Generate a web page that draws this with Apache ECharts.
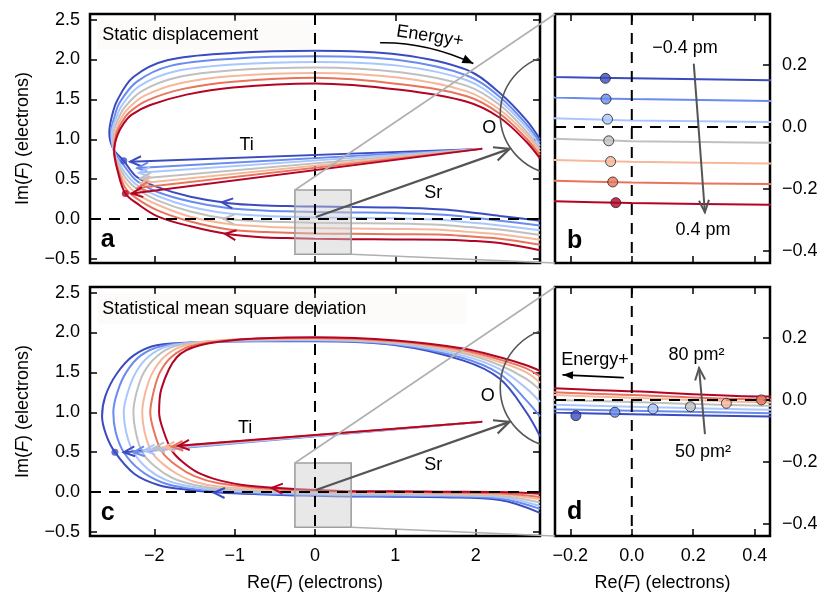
<!DOCTYPE html>
<html>
<head>
<meta charset="utf-8">
<script src="https://cdn.jsdelivr.net/npm/echarts@6/dist/echarts.min.js"></script>
<style>
html, body { margin: 0; padding: 0; background: #fff; }
#chart { width: 821px; height: 593px; }
</style>
</head>
<body>
<div id="chart"></div>
<script>
const FONT = '"Liberation Sans", Arial, Helvetica, sans-serif';

// coolwarm steps, one per curve (blue -> red)
const palette = ['#3b4cc0', '#6a8bef', '#aac7fd', '#c0c0c0', '#f6b89c', '#e7745b', '#b40426'];

// axis ranges and tick values
const mainRangeX = [-2.8, 2.8];
const mainRangeY = [-0.55, 2.57];
const insetRangeX = [-0.25, 0.45];
const insetRangeY = [-0.44, 0.365];
const mainTicksX = [-2, -1, 0, 1, 2];
const mainTicksY = [-0.5, 0, 0.5, 1, 1.5, 2, 2.5];
const insetTicksX = [-0.2, 0, 0.2, 0.4];
const insetTicksY = [-0.4, -0.2, 0, 0.2];

// F(E) trajectories, static displacement (-0.4 pm ... 0.4 pm)
const staticCurve0 = [[2.8,-0.02],[2.3,0.04],[1.9,0.09],[1.6,0.12],[1.0,0.145],[0.45,0.151],[0,0.157],[-0.25,0.161],[-0.6,0.17],[-1.07,0.20],[-1.55,0.28],[-1.96,0.40],[-2.22,0.53],[-2.38,0.73],[-2.51,0.88],[-2.56,1.08],[-2.53,1.28],[-2.46,1.49],[-2.26,1.78],[-1.84,1.99],[-1.02,2.08],[0,2.11],[1.06,2.06],[1.89,1.87],[2.3,1.58],[2.63,1.24],[2.8,1.0]];
const staticCurve1 = [[2.8,-0.08],[2.3,-0.02],[1.9,0.025],[1.6,0.055],[1.0,0.078],[0.45,0.084],[0,0.090],[-0.25,0.095],[-0.6,0.105],[-1.07,0.135],[-1.55,0.22],[-1.96,0.34],[-2.22,0.48],[-2.37,0.66],[-2.45,0.77],[-2.51,0.875],[-2.54,1.075],[-2.5,1.267],[-2.43,1.46],[-2.22,1.72],[-1.80,1.92],[-1.02,2.01],[0,2.04],[1.06,1.99],[1.89,1.80],[2.3,1.53],[2.63,1.19],[2.8,0.96]];
const staticCurve2 = [[2.8,-0.14],[2.3,-0.08],[1.9,-0.04],[1.6,-0.01],[1.0,0.01],[0.45,0.016],[0,0.021],[-0.25,0.028],[-0.6,0.04],[-1.07,0.07],[-1.55,0.155],[-1.96,0.29],[-2.22,0.43],[-2.37,0.59],[-2.45,0.73],[-2.51,0.87],[-2.53,1.07],[-2.48,1.253],[-2.40,1.43],[-2.19,1.663],[-1.76,1.847],[-1.02,1.937],[0,1.97],[1.06,1.92],[1.89,1.74],[2.3,1.48],[2.63,1.15],[2.8,0.92]];
const staticCurve3 = [[2.8,-0.20],[2.3,-0.13],[1.9,-0.10],[1.6,-0.075],[1.0,-0.056],[0.45,-0.051],[0,-0.046],[-0.25,-0.038],[-0.6,-0.03],[-1.07,0.0],[-1.55,0.095],[-1.96,0.235],[-2.22,0.38],[-2.36,0.52],[-2.45,0.69],[-2.5,0.87],[-2.51,1.065],[-2.455,1.24],[-2.37,1.40],[-2.155,1.605],[-1.72,1.775],[-1.02,1.865],[0,1.90],[1.06,1.84],[1.89,1.67],[2.3,1.43],[2.63,1.10],[2.8,0.88]];
const staticCurve4 = [[2.8,-0.26],[2.3,-0.19],[1.9,-0.16],[1.6,-0.135],[1.0,-0.123],[0.45,-0.118],[0,-0.113],[-0.25,-0.107],[-0.6,-0.095],[-1.07,-0.06],[-1.55,0.03],[-1.96,0.18],[-2.22,0.32],[-2.36,0.46],[-2.45,0.65],[-2.5,0.865],[-2.49,1.06],[-2.43,1.227],[-2.34,1.37],[-2.12,1.547],[-1.68,1.703],[-1.02,1.793],[0,1.83],[1.06,1.77],[1.89,1.60],[2.3,1.37],[2.63,1.06],[2.8,0.84]];
const staticCurve5 = [[2.8,-0.32],[2.3,-0.245],[1.9,-0.215],[1.6,-0.195],[1.0,-0.19],[0.45,-0.185],[0,-0.180],[-0.25,-0.174],[-0.6,-0.163],[-1.07,-0.13],[-1.55,-0.03],[-1.96,0.11],[-2.22,0.26],[-2.36,0.39],[-2.45,0.62],[-2.5,0.86],[-2.477,1.055],[-2.405,1.213],[-2.31,1.34],[-2.085,1.488],[-1.64,1.632],[-1.02,1.722],[0,1.77],[1.06,1.69],[1.89,1.54],[2.3,1.32],[2.63,1.01],[2.8,0.80]];
const staticCurve6 = [[2.8,-0.39],[2.3,-0.30],[1.9,-0.27],[1.6,-0.258],[1.0,-0.255],[0.45,-0.252],[0,-0.246],[-0.25,-0.240],[-0.6,-0.23],[-1.07,-0.19],[-1.55,-0.09],[-1.96,0.035],[-2.22,0.20],[-2.36,0.32],[-2.45,0.58],[-2.5,0.855],[-2.46,1.05],[-2.38,1.2],[-2.28,1.31],[-2.05,1.43],[-1.6,1.56],[-1.02,1.65],[0,1.70],[1.06,1.62],[1.89,1.47],[2.3,1.27],[2.63,0.97],[2.8,0.76]];
const staticCurves = [staticCurve0, staticCurve1, staticCurve2, staticCurve3, staticCurve4, staticCurve5, staticCurve6];

// F(E) trajectories, mean square deviation (50 pm^2 ... 80 pm^2)
const msdCurve0 = [[2.8,-0.26],[2.3,-0.10],[1.6,-0.065],[1.0,-0.058],[0.45,-0.054],[0,-0.046],[-0.25,-0.041],[-0.6,-0.03],[-1.2,-0.005],[-1.6,0.03],[-1.95,0.09],[-2.25,0.23],[-2.49,0.5],[-2.60,0.72],[-2.65,0.95],[-2.61,1.2],[-2.47,1.48],[-2.26,1.71],[-1.97,1.84],[-1.4,1.88],[-0.7,1.89],[0,1.89],[1.01,1.84],[1.84,1.65],[2.3,1.42],[2.63,1.0],[2.8,0.7]];
const msdCurve1 = [[2.8,-0.21],[2.3,-0.08],[1.6,-0.052],[1.0,-0.046],[0.45,-0.043],[0,-0.035],[-0.25,-0.030],[-0.6,-0.02],[-1.2,0.01],[-1.6,0.05],[-1.9,0.12],[-2.17,0.27],[-2.38,0.5],[-2.48,0.75],[-2.51,1.0],[-2.46,1.25],[-2.35,1.5],[-2.17,1.71],[-1.9,1.83],[-1.4,1.88],[-0.7,1.895],[0,1.898],[1.01,1.85],[1.84,1.68],[2.3,1.48],[2.63,1.15],[2.8,0.95]];
const msdCurve2 = [[2.8,-0.175],[2.3,-0.06],[1.6,-0.04],[1.0,-0.034],[0.45,-0.032],[0,-0.022],[-0.25,-0.016],[-0.6,-0.005],[-1.2,0.025],[-1.55,0.07],[-1.85,0.15],[-2.08,0.29],[-2.26,0.5],[-2.35,0.75],[-2.38,1.0],[-2.33,1.25],[-2.23,1.5],[-2.07,1.70],[-1.82,1.83],[-1.35,1.885],[-0.7,1.90],[0,1.906],[1.01,1.86],[1.84,1.71],[2.3,1.54],[2.63,1.3],[2.8,1.13]];
const msdCurve3 = [[2.8,-0.13],[2.3,-0.045],[1.6,-0.028],[1.0,-0.022],[0.45,-0.019],[0,-0.007],[-0.25,0.0],[-0.6,0.01],[-1.2,0.045],[-1.5,0.09],[-1.78,0.18],[-1.99,0.32],[-2.15,0.5],[-2.23,0.75],[-2.26,1.0],[-2.22,1.25],[-2.13,1.5],[-1.97,1.70],[-1.74,1.83],[-1.3,1.89],[-0.7,1.91],[0,1.915],[1.01,1.87],[1.84,1.74],[2.3,1.59],[2.63,1.42],[2.8,1.28]];
const msdCurve4 = [[2.8,-0.09],[2.3,-0.03],[1.6,-0.017],[1.0,-0.01],[0.45,-0.008],[0,0.007],[-0.25,0.016],[-0.6,0.03],[-1.2,0.07],[-1.5,0.13],[-1.72,0.23],[-1.9,0.36],[-2.03,0.5],[-2.12,0.75],[-2.15,1.0],[-2.11,1.25],[-2.02,1.5],[-1.87,1.70],[-1.64,1.83],[-1.2,1.9],[-0.7,1.92],[0,1.923],[1.01,1.88],[1.84,1.76],[2.3,1.63],[2.63,1.5],[2.8,1.37]];
const msdCurve5 = [[2.8,-0.06],[2.3,-0.015],[1.6,-0.006],[1.0,0.003],[0.45,0.001],[0,0.016],[-0.25,0.025],[-0.6,0.045],[-1.2,0.11],[-1.5,0.2],[-1.72,0.33],[-1.9,0.5],[-2.0,0.75],[-2.05,1.0],[-2.01,1.25],[-1.93,1.5],[-1.78,1.70],[-1.54,1.83],[-1.1,1.9],[-0.7,1.925],[0,1.931],[1.01,1.89],[1.84,1.78],[2.3,1.66],[2.63,1.55],[2.8,1.45]];
const msdCurve6 = [[2.8,-0.02],[2.3,0.0],[1.6,0.005],[1.0,0.012],[0.45,0.011],[0,0.028],[-0.25,0.038],[-0.6,0.06],[-0.9,0.09],[-1.2,0.15],[-1.45,0.24],[-1.65,0.38],[-1.78,0.52],[-1.88,0.75],[-1.94,1.0],[-1.91,1.3],[-1.72,1.69],[-1.43,1.84],[-0.8,1.92],[0,1.94],[1.01,1.90],[1.84,1.80],[2.3,1.69],[2.63,1.59],[2.8,1.52]];
const msdCurves = [msdCurve0, msdCurve1, msdCurve2, msdCurve3, msdCurve4, msdCurve5, msdCurve6];

// marked points
const staticDotsMain = [[-2.38, 0.73, 0], [-2.36, 0.32, 6]];
const staticDotsInset = [[-0.086,0.157],[-0.084,0.090],[-0.079,0.025],[-0.075,-0.045],[-0.069,-0.112],[-0.062,-0.178],[-0.052,-0.245]];
const msdDotsMain = [[-2.49, 0.50, 0]];
const msdDotsInset = [[-0.182,-0.051],[-0.055,-0.040],[0.069,-0.029],[0.191,-0.022],[0.308,-0.011],[0.422,0.0],[0.54,0.012]];

// partial structure-factor vectors
const tiStart = [2.07, 0.88];
const tiEndsStatic = [[-2.30,0.72],[-2.21,0.64],[-2.19,0.58],[-2.17,0.51],[-2.17,0.45],[-2.21,0.39],[-2.28,0.32]];
const tiEndsMsd = [[-2.38,0.50],[-2.26,0.50],[-2.13,0.52],[-2.01,0.55],[-1.88,0.56],[-1.78,0.57],[-1.70,0.58]];
const srStart = [0.02, 0.03];
const srEnd = [2.42, 0.88];
const oCenter = [3.05, 1.31];
const oRadius = 0.75;

// ---------- axes ----------
const minus = s => String(s).replace('-', '\u2212');
const fmt1 = v => minus(Number(v).toFixed(1));
const fmt0 = v => minus(Math.round(v));

function xAxis(grid, pos, range, ticks, labels, fmt, name) {
  return {
    type: 'value', gridIndex: grid, position: pos, min: range[0], max: range[1],
    axisLine: { show: false, onZero: false },
    splitLine: { show: false },
    axisTick: { show: true, inside: true, length: 7, customValues: ticks, lineStyle: { color: '#000', width: 1.5 } },
    axisLabel: { show: labels, customValues: ticks, formatter: fmt, margin: 11, color: '#000', fontSize: 18, fontFamily: FONT },
    name: name || '', nameLocation: 'middle', nameGap: 38,
    nameTextStyle: { color: '#000', fontSize: 18, fontFamily: FONT, rich: { i: { fontStyle: 'italic', fontSize: 18, fontFamily: FONT, color: '#000' } } }
  };
}
function yAxis(grid, pos, range, ticks, showTicks, labels, fmt, name) {
  return {
    type: 'value', gridIndex: grid, position: pos, min: range[0], max: range[1],
    axisLine: { show: false, onZero: false },
    splitLine: { show: false },
    axisTick: { show: showTicks, inside: true, length: 7, customValues: ticks, lineStyle: { color: '#000', width: 1.5 } },
    axisLabel: { show: labels, customValues: ticks, formatter: fmt, margin: pos === 'left' ? 10 : 12, color: '#000', fontSize: 18, fontFamily: FONT },
    name: name || '', nameLocation: 'middle', nameGap: 58,
    nameTextStyle: { color: '#000', fontSize: 18, fontFamily: FONT, rich: { i: { fontStyle: 'italic', fontSize: 18, fontFamily: FONT, color: '#000' } } }
  };
}
const reName = 'Re({i|F}) (electrons)';
const imName = 'Im({i|F}) (electrons)';

const xAxes = [
  xAxis(0, 'bottom', mainRangeX, mainTicksX, false, fmt0),
  xAxis(0, 'top', mainRangeX, mainTicksX, false, fmt0),
  xAxis(1, 'bottom', insetRangeX, insetTicksX, false, fmt1),
  xAxis(1, 'top', insetRangeX, insetTicksX, false, fmt1),
  xAxis(2, 'bottom', mainRangeX, mainTicksX, true, fmt0, reName),
  xAxis(2, 'top', mainRangeX, mainTicksX, false, fmt0),
  xAxis(3, 'bottom', insetRangeX, insetTicksX, true, fmt1, reName),
  xAxis(3, 'top', insetRangeX, insetTicksX, false, fmt1)
];
const yAxes = [
  yAxis(0, 'left', mainRangeY, mainTicksY, true, true, fmt1, imName),
  yAxis(0, 'right', mainRangeY, mainTicksY, true, false, fmt1),
  yAxis(1, 'left', insetRangeY, insetTicksY, false, false, fmt1),
  yAxis(1, 'right', insetRangeY, insetTicksY, true, true, fmt1),
  yAxis(2, 'left', mainRangeY, mainTicksY, true, true, fmt1, imName),
  yAxis(2, 'right', mainRangeY, mainTicksY, true, false, fmt1),
  yAxis(3, 'left', insetRangeY, insetTicksY, false, false, fmt1),
  yAxis(3, 'right', insetRangeY, insetTicksY, true, true, fmt1)
];

const frame = { show: true, borderColor: '#000', borderWidth: 2.5, backgroundColor: 'transparent' };
const grids = [
  Object.assign({ left: 90, top: 14, width: 450, height: 249 }, frame),
  Object.assign({ left: 555, top: 14, width: 215, height: 249 }, frame),
  Object.assign({ left: 90, top: 287, width: 450, height: 249 }, frame),
  Object.assign({ left: 555, top: 287, width: 215, height: 249 }, frame)
];

// ---------- drawing helpers for annotations ----------
function headPoints(tip, back, len, half) {
  const dx = tip[0] - back[0], dy = tip[1] - back[1];
  const d = Math.hypot(dx, dy) || 1;
  const ux = dx / d, uy = dy / d, nx = -uy, ny = ux;
  return [
    [tip[0] - len * ux + half * nx, tip[1] - len * uy + half * ny],
    [tip[0], tip[1]],
    [tip[0] - len * ux - half * nx, tip[1] - len * uy - half * ny]
  ];
}

function drawSpec(s, api) {
  const c = p => api.coord(p);
  if (s.kind === 'arrow') {
    const a = c(s.from), b = c(s.to);
    const head = headPoints(b, a, s.len || 12, s.half || 5);
    const kids = [{ type: 'line', shape: { x1: a[0], y1: a[1], x2: b[0], y2: b[1] },
      style: { stroke: s.color, lineWidth: s.width || 2, lineCap: 'round' } }];
    if (s.filled) kids.push({ type: 'polygon', shape: { points: head }, style: { fill: s.color } });
    else kids.push({ type: 'polyline', shape: { points: head }, style: { stroke: s.color, lineWidth: s.width || 2, fill: 'none', lineJoin: 'miter' } });
    return { type: 'group', children: kids };
  }
  if (s.kind === 'chevron') {
    const head = headPoints(c(s.at), c(s.from), s.len || 11, s.half || 5);
    return { type: 'polyline', shape: { points: head }, style: { stroke: s.color, lineWidth: 2, fill: 'none' } };
  }
  if (s.kind === 'curveArrow') {
    const a = c(s.from), m = c(s.ctrl), b = c(s.to);
    return { type: 'group', children: [
      { type: 'bezierCurve', shape: { x1: a[0], y1: a[1], cpx1: m[0], cpy1: m[1], x2: b[0], y2: b[1] },
        style: { stroke: s.color, lineWidth: 1.6, fill: 'none' } },
      { type: 'polygon', shape: { points: headPoints(b, m, 11, 4.5) }, style: { fill: s.color } }
    ] };
  }
  if (s.kind === 'text') {
    const p = c(s.at);
    const style = { text: s.text, font: s.font || ('18px ' + FONT), fill: s.color || '#000',
      align: s.align || 'center', verticalAlign: 'middle', textAlign: s.align || 'center', textVerticalAlign: 'middle' };
    if (s.bg) { style.backgroundColor = s.bg; style.padding = s.padding; }
    return { type: 'text', x: p[0], y: p[1], rotation: s.rotate || 0, style };
  }
  if (s.kind === 'circle') {
    const p = c(s.center);
    const r = api.size([0, s.r])[1];
    return { type: 'circle', shape: { cx: p[0], cy: p[1], r }, style: { fill: 'none', stroke: s.color, lineWidth: 1.6 } };
  }
  if (s.kind === 'rect') {
    const p0 = c([s.x[0], s.y[1]]), p1 = c([s.x[1], s.y[0]]);
    return { type: 'rect', shape: { x: p0[0], y: p0[1], width: p1[0] - p0[0], height: p1[1] - p0[1] },
      style: { fill: s.fill, stroke: s.stroke, lineWidth: 1.6 } };
  }
  if (s.kind === 'dash') {
    const a = c(s.from), b = c(s.to);
    return { type: 'line', shape: { x1: a[0], y1: a[1], x2: b[0], y2: b[1] },
      style: { stroke: '#000', lineWidth: 2, lineDash: [11, 8] } };
  }
  return null;
}

function specAnchor(s) {
  return s.at || s.from || s.center || [s.x[0], s.y[0]];
}

function customLayer(grid, specs, z) {
  return {
    type: 'custom', xAxisIndex: grid * 2, yAxisIndex: grid * 2, z, clip: true, silent: true,
    data: specs.map(specAnchor),
    renderItem: (params, api) => drawSpec(specs[params.dataIndex], api)
  };
}

function curveSeries(grid, curves) {
  return curves.map((pts, k) => ({
    type: 'line', xAxisIndex: grid * 2, yAxisIndex: grid * 2, data: pts,
    showSymbol: false, smooth: 0.35, z: 2, silent: true,
    lineStyle: { color: palette[k], width: 2 }, itemStyle: { color: palette[k] }
  }));
}

function guides(rangeX, rangeY) {
  return [
    { kind: 'dash', from: [rangeX[0], 0], to: [rangeX[1], 0] },
    { kind: 'dash', from: [0, rangeY[1]], to: [0, rangeY[0]] }
  ];
}

const insetBox = { kind: 'rect', x: insetRangeX, y: insetRangeY, fill: 'rgba(205,205,205,0.45)', stroke: '#a0a0a0' };

// ---------- annotation lists ----------
const notesA = [
  { kind: 'text', at: [-2.71, 2.31], text: 'Static displacement', align: 'left', bg: 'rgba(248,238,238,0.3)', padding: [6, 55, 6, 5] },
  { kind: 'circle', center: oCenter, r: oRadius, color: '#555' },
  { kind: 'text', at: [2.17, 1.14], text: 'O' },
  { kind: 'text', at: [-0.85, 0.93], text: 'Ti' },
  { kind: 'text', at: [1.47, 0.33], text: 'Sr' },
  { kind: 'text', at: [1.43, 2.29], text: 'Energy+', rotate: -0.15 },
  { kind: 'curveArrow', from: [0.81, 2.21], ctrl: [1.39, 2.22], to: [1.97, 1.95], color: '#000' },
  { kind: 'arrow', from: srStart, to: srEnd, color: '#555', width: 2.2, len: 15, half: 7 },
  { kind: 'chevron', at: [-1.16, 0.21], from: [-1.0, 0.195], color: palette[0] },
  { kind: 'chevron', at: [-1.14, 0.005], from: [-0.98, -0.005], color: palette[3] },
  { kind: 'chevron', at: [-1.12, -0.185], from: [-0.96, -0.205], color: palette[6] },
  { kind: 'text', at: [-2.58, -0.26], text: 'a', font: 'bold 25px ' + FONT }
].concat(tiEndsStatic.map((p, k) => ({ kind: 'arrow', from: tiStart, to: p, color: palette[k], width: 2, len: 11, half: 5 })));

const notesB = [
  { kind: 'arrow', from: [0.202, 0.202], to: [0.238, -0.276], color: '#555', width: 2, len: 12, half: 5 },
  { kind: 'text', at: [0.173, 0.256], text: '\u22120.4 pm' },
  { kind: 'text', at: [0.232, -0.335], text: '0.4 pm' },
  { kind: 'text', at: [-0.186, -0.368], text: 'b', font: 'bold 25px ' + FONT }
];

const notesC = [
  { kind: 'text', at: [-2.71, 2.30], text: 'Statistical mean square deviation', align: 'left', bg: 'rgba(248,238,238,0.3)', padding: [6, 100, 6, 5] },
  { kind: 'circle', center: oCenter, r: oRadius, color: '#555' },
  { kind: 'text', at: [2.15, 1.20], text: 'O' },
  { kind: 'text', at: [-0.87, 0.80], text: 'Ti' },
  { kind: 'text', at: [1.47, 0.34], text: 'Sr' },
  { kind: 'arrow', from: srStart, to: srEnd, color: '#555', width: 2.2, len: 15, half: 7 },
  { kind: 'chevron', at: [-1.26, -0.006], from: [-1.1, -0.012], color: palette[0] },
  { kind: 'chevron', at: [-0.54, 0.053], from: [-0.38, 0.043], color: palette[6] },
  { kind: 'text', at: [-2.58, -0.26], text: 'c', font: 'bold 25px ' + FONT }
].concat(tiEndsMsd.map((p, k) => ({ kind: 'arrow', from: tiStart, to: p, color: palette[k], width: 2, len: 11, half: 5 })));

const notesD = [
  { kind: 'arrow', from: [0.238, -0.108], to: [0.219, 0.103], color: '#555', width: 2, len: 12, half: 5 },
  { kind: 'text', at: [0.211, 0.146], text: '80 pm\u00B2' },
  { kind: 'text', at: [0.232, -0.168], text: '50 pm\u00B2' },
  { kind: 'text', at: [-0.12, 0.13], text: 'Energy+' },
  { kind: 'arrow', from: [-0.028, 0.072], to: [-0.224, 0.081], color: '#000', width: 1.6, filled: true, len: 10, half: 4 },
  { kind: 'text', at: [-0.186, -0.363], text: 'd', font: 'bold 25px ' + FONT }
];

function dotSeries(grid, pts, size, border) {
  return {
    type: 'scatter', xAxisIndex: grid * 2, yAxisIndex: grid * 2, z: 6, silent: true,
    symbolSize: size,
    data: pts.map((p, k) => ({ value: [p[0], p[1]], itemStyle: { color: palette[p.length > 2 ? p[2] : k],
      borderColor: border ? '#222' : palette[p.length > 2 ? p[2] : k], borderWidth: border ? 1 : 0 } }))
  };
}

const series = [].concat(
  curveSeries(0, staticCurves),
  curveSeries(1, staticCurves),
  curveSeries(2, msdCurves),
  curveSeries(3, msdCurves),
  [
    customLayer(0, [insetBox], 3),
    customLayer(2, [insetBox], 3),
    customLayer(0, guides(mainRangeX, mainRangeY), 4),
    customLayer(1, guides(insetRangeX, insetRangeY), 4),
    customLayer(2, guides(mainRangeX, mainRangeY), 4),
    customLayer(3, guides(insetRangeX, insetRangeY), 4),
    customLayer(0, notesA, 5),
    customLayer(1, notesB, 5),
    customLayer(2, notesC, 5),
    customLayer(3, notesD, 5),
    dotSeries(0, staticDotsMain, 7, false),
    dotSeries(1, staticDotsInset, 10, true),
    dotSeries(2, msdDotsMain, 7, false),
    dotSeries(3, msdDotsInset, 10, true)
  ]
);

const chart = echarts.init(document.getElementById('chart'), null, { renderer: 'canvas' });
chart.setOption({
  animation: false,
  backgroundColor: '#fff',
  textStyle: { fontFamily: FONT },
  grid: grids,
  xAxis: xAxes,
  yAxis: yAxes,
  series
});

// zoom connectors from the shaded box in each main panel to its inset panel
const connectors = [];
[[0, 1], [2, 3]].forEach(([mainGrid, insetGrid]) => {
  const toPx = (g, p) => chart.convertToPixel({ xAxisIndex: g * 2, yAxisIndex: g * 2 }, p);
  const a1 = toPx(mainGrid, [insetRangeX[0], insetRangeY[1]]);
  const b1 = toPx(insetGrid, [insetRangeX[0], insetRangeY[1]]);
  const a2 = toPx(mainGrid, [insetRangeX[1], insetRangeY[0]]);
  const b2 = toPx(insetGrid, [insetRangeX[0], insetRangeY[0]]);
  [[a1, b1], [a2, b2]].forEach(([p, q]) => connectors.push({
    type: 'line', z: 50, silent: true,
    shape: { x1: p[0], y1: p[1], x2: q[0], y2: q[1] },
    style: { stroke: '#b0b0b0', lineWidth: 1.6 }
  }));
});
chart.setOption({ graphic: connectors });
</script>
</body>
</html>
